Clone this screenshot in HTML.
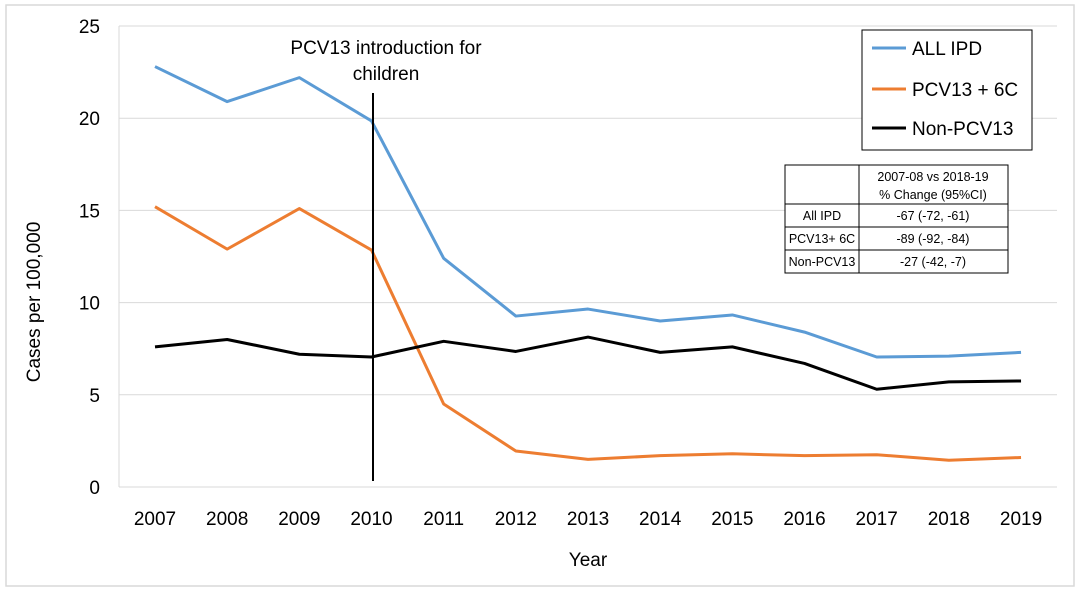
<!DOCTYPE html>
<html><head><meta charset="utf-8"><style>
body{margin:0;background:#fff;}
svg text{font-family:"Liberation Sans",sans-serif;fill:#000;}
</style></head><body>
<svg width="1080" height="591">
<rect x="6" y="5" width="1068" height="581" fill="#fff" stroke="#d9d9d9" stroke-width="1.5"/>
<g id="grid"></g><g id="axes"></g><g id="series"></g>
<line x1="373" y1="93" x2="373" y2="481" stroke="#000" stroke-width="2"/>
<text x="386" y="54" font-size="19" text-anchor="middle">PCV13 introduction for</text>
<text x="386" y="80" font-size="19" text-anchor="middle">children</text>
<text transform="translate(40,302) rotate(-90)" font-size="19" text-anchor="middle">Cases per 100,000</text>
<text x="588" y="566" font-size="19" text-anchor="middle">Year</text>
<g>
<rect x="862" y="30" width="170" height="120" fill="#fff" stroke="#000" stroke-width="1"/>
<line x1="872" y1="48" x2="906" y2="48" stroke="#5b9bd5" stroke-width="3"/>
<text x="912" y="55" font-size="19">ALL IPD</text>
<line x1="872" y1="89" x2="906" y2="89" stroke="#ed7d31" stroke-width="3"/>
<text x="912" y="96" font-size="19">PCV13 + 6C</text>
<line x1="872" y1="128" x2="906" y2="128" stroke="#000" stroke-width="3"/>
<text x="912" y="135" font-size="19">Non-PCV13</text>
</g>
<g stroke="#000" stroke-width="1">
<rect x="785" y="165" width="223" height="108" fill="#fff"/>
<line x1="859" y1="165" x2="859" y2="273"/>
<line x1="785" y1="204" x2="1008" y2="204"/>
<line x1="785" y1="227" x2="1008" y2="227"/>
<line x1="785" y1="250" x2="1008" y2="250"/>
</g>
<g font-size="12.5" text-anchor="middle">
<text x="933" y="181">2007-08 vs 2018-19</text>
<text x="933" y="199">% Change  (95%CI)</text>
<text x="822" y="220">All IPD</text><text x="933" y="220">-67 (-72, -61)</text>
<text x="822" y="243">PCV13+ 6C</text><text x="933" y="243">-89 (-92, -84)</text>
<text x="822" y="266">Non-PCV13</text><text x="933" y="266">-27 (-42, -7)</text>
</g>
</svg>
<script>
const years=[2007,2008,2009,2010,2011,2012,2013,2014,2015,2016,2017,2018,2019];
const allIpd=[22.8,20.9,22.2,19.85,12.4,9.27,9.65,9.0,9.33,8.4,7.05,7.1,7.3];
const pcv13=[15.2,12.9,15.1,12.85,4.5,1.95,1.5,1.7,1.8,1.7,1.75,1.45,1.6];
const nonPcv13=[7.6,8.0,7.2,7.05,7.9,7.35,8.13,7.3,7.6,6.7,5.3,5.7,5.75];
const yTicks=[0,5,10,15,20,25];
const NS="http://www.w3.org/2000/svg";
const X=i=>155+i*72.17;
const Y=v=>487-v*18.44;
function mk(t,a,p){const e=document.createElementNS(NS,t);for(const k in a)e.setAttribute(k,a[k]);p.appendChild(e);return e;}
const grid=document.getElementById('grid'),axes=document.getElementById('axes'),ser=document.getElementById('series');
yTicks.forEach(v=>{
 const l=mk('line',{x1:119,x2:1057,y1:Y(v),y2:Y(v),stroke:'#d9d9d9','stroke-width':1},grid);
 
 
 const t=mk('text',{x:100,y:Y(v)+7,'font-size':19,'text-anchor':'end'},axes);t.textContent=v;
 
 
});
const ax=mk('line',{x1:119,x2:119,y1:Y(25),y2:Y(0),stroke:'#d9d9d9','stroke-width':1},axes);


years.forEach((y,i)=>{
 const t=mk('text',{x:X(i),y:525,'font-size':19,'text-anchor':'middle'},axes);t.textContent=y;
 
 
});
[[allIpd,'#5b9bd5','all-ipd'],[pcv13,'#ed7d31','pcv13-6c'],[nonPcv13,'#000','non-pcv13']].forEach(([d,c,n])=>{
 const p=mk('polyline',{points:d.map((v,i)=>X(i)+','+Y(v)).join(' '),fill:'none',stroke:c,'stroke-width':3,'stroke-linejoin':'round'},ser);
 
 
});
</script>
</body></html>
